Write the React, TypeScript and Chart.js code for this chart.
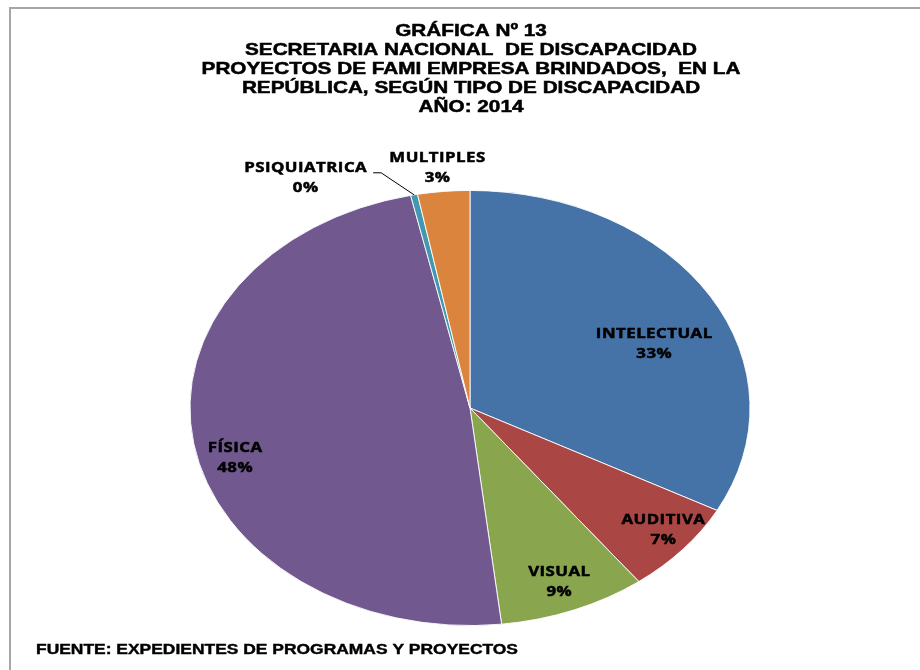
import React, { useEffect, useRef } from "react";
import { Chart, registerables } from "chart.js";

Chart.register(...registerables);

// ---- data ----
const categories = ["INTELECTUAL", "AUDITIVA", "VISUAL", "FÍSICA", "PSIQUIATRICA", "MULTIPLES"];
const values = [32.8, 6.9, 8.5, 48.4, 0.4, 3.0];
const colors = ["#4572A7", "#AA4643", "#89A54E", "#71588F", "#4198AF", "#DB843D"];
const titleLines = [
  "GRÁFICA Nº 13",
  "SECRETARIA NACIONAL  DE DISCAPACIDAD",
  "PROYECTOS DE FAMI EMPRESA BRINDADOS,  EN LA",
  "REPÚBLICA, SEGÚN TIPO DE DISCAPACIDAD",
  "AÑO: 2014",
];
const sourceNote = "FUENTE: EXPEDIENTES DE PROGRAMAS Y PROYECTOS";

// ---- label placement (style config) ----
const labelRadius = [0.72, 0.89, 0.86, 0.87, 1.21, 1.11];
const labelShiftDeg = [7, -1.4, 0, -6, -17.5, -0.6];
const labelLeader = [false, false, false, false, true, false];
const SY = 0.777; // vertical squash of the pie (ellipse)
const STRETCH = 1.2; // horizontal text stretch

function stretchedText(ctx: CanvasRenderingContext2D, text: string, x: number, y: number, align: CanvasTextAlign, stretch: number, bolden: number) {
  ctx.save();
  ctx.translate(x, y);
  ctx.scale(stretch, 1);
  ctx.textAlign = align;
  ctx.fillText(text, 0, 0);
  if (bolden > 0) {
    ctx.lineWidth = bolden;
    ctx.strokeStyle = ctx.fillStyle as string;
    ctx.strokeText(text, 0, 0);
  }
  ctx.restore();
}

const framePlugin = {
  id: "frame",
  beforeDraw(chart: any) {
    const ctx: CanvasRenderingContext2D = chart.ctx;
    ctx.save();
    ctx.fillStyle = "#ffffff";
    ctx.fillRect(0, 0, chart.width, chart.height);
    ctx.fillStyle = "#a6a6a6";
    ctx.fillRect(9, 7, chart.width - 9, 2);
    ctx.fillRect(9, 7, 2, chart.height - 7);
    ctx.restore();
  },
};

const ellipsePlugin = {
  id: "ellipse",
  beforeDatasetsDraw(chart: any) {
    const arc = chart.getDatasetMeta(0).data[0];
    const ctx: CanvasRenderingContext2D = chart.ctx;
    ctx.save();
    ctx.translate(arc.x, arc.y);
    ctx.scale(1, SY);
    ctx.translate(-arc.x, -arc.y);
  },
  afterDatasetsDraw(chart: any) {
    chart.ctx.restore();
  },
};

const textPlugin = {
  id: "texts",
  afterDraw(chart: any) {
    const ctx: CanvasRenderingContext2D = chart.ctx;
    ctx.save();
    ctx.fillStyle = "#000000";
    ctx.textBaseline = "middle";

    // title
    ctx.font = "bold 17px 'Liberation Sans', Arial, sans-serif";
    const tcx = 471;
    const ty0 = 31;
    const tdy = 19;
    titleLines.forEach((line, i) => stretchedText(ctx, line, tcx, ty0 + i * tdy, "center", 1.22, 0.5));

    // footer
    ctx.font = "bold 14px 'Liberation Sans', Arial, sans-serif";
    stretchedText(ctx, sourceNote, 36, 650, "left", 1.245, 0.4);

    // slice labels
    const meta = chart.getDatasetMeta(0);
    const total = values.reduce((a, b) => a + b, 0);
    ctx.font = "bold 14px 'Open Sans', sans-serif";
    (ctx as any).letterSpacing = "0.4px";
    meta.data.forEach((el: any, i: number) => {
      const p = el.getProps(["x", "y", "startAngle", "endAngle", "outerRadius"], true);
      const midRaw = (p.startAngle + p.endAngle) / 2;
      const mid = midRaw + (labelShiftDeg[i] * Math.PI) / 180;
      const r = p.outerRadius * labelRadius[i];
      const lx = p.x + Math.cos(mid) * r;
      const ly = p.y + Math.sin(mid) * r * SY;
      const name = categories[i];
      const pct = Math.round((values[i] / total) * 100) + "%";
      stretchedText(ctx, name, lx, ly - 10, "center", STRETCH, 0.5);
      stretchedText(ctx, pct, lx, ly + 10, "center", STRETCH, 0.5);
      if (labelLeader[i]) {
        const w = ctx.measureText(name).width * STRETCH;
        const ex = p.x + Math.cos(midRaw) * p.outerRadius;
        const ey = p.y + Math.sin(midRaw) * p.outerRadius * SY;
        ctx.save();
        ctx.strokeStyle = "#000000";
        ctx.lineWidth = 1;
        ctx.beginPath();
        ctx.moveTo(lx + w / 2 + 6, ly - 5);
        ctx.lineTo(lx + w / 2 + 14, ly - 5);
        ctx.lineTo(ex, ey);
        ctx.stroke();
        ctx.restore();
      }
    });
    ctx.restore();
  },
};

export default function App() {
  const ref = useRef<HTMLCanvasElement | null>(null);
  useEffect(() => {
    if (!ref.current) return;
    const chart = new Chart(ref.current, {
      type: "pie",
      data: {
        labels: categories,
        datasets: [
          {
            data: values,
            backgroundColor: colors,
            borderColor: "#ffffff",
            borderWidth: 1,
            radius: 280,
            clip: false,
          } as any,
        ],
      },
      options: {
        responsive: false,
        animation: false,
        layout: { padding: { left: 190, right: 170, top: 146, bottom: 0 } },
        plugins: { legend: { display: false }, tooltip: { enabled: false }, title: { display: false } },
      },
      plugins: [framePlugin, ellipsePlugin, textPlugin],
    });
    return () => chart.destroy();
  }, []);
  return (
    <div style={{ position: "absolute", left: 0, top: 0, width: 920, height: 670 }}>
      <canvas ref={ref} width={920} height={670} style={{ display: "block" }} />
    </div>
  );
}
